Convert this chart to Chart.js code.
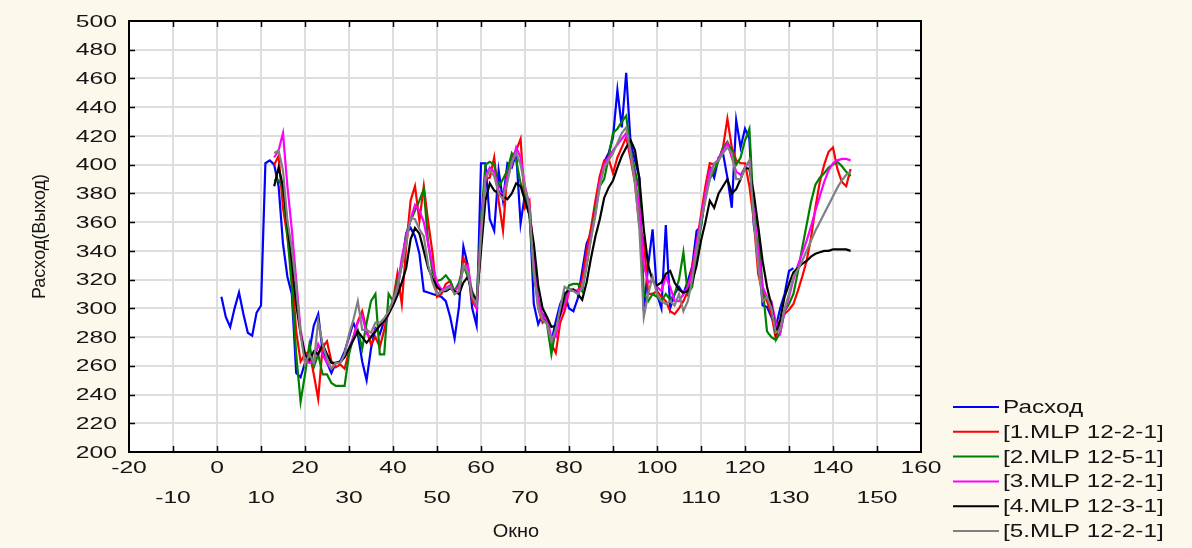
<!DOCTYPE html>
<html>
<head>
<meta charset="utf-8">
<script src="https://cdn.jsdelivr.net/npm/chart.js@4.4.1/dist/chart.umd.min.js"></script>
<style>
    body { margin: 0; background: #fdf8ec; }
    canvas { display: block; }
</style>
</head>
<body>
<canvas id="forecast_chart" width="1192" height="548"></canvas>
<script>
// first window index of the observed series and of the model outputs
const rashodStart = 1;
const modelStart = 13;

const rashod = [
    308, 294, 287, 300, 311, 296, 283, 281, 297, 302,
    401, 403, 400, 385, 345, 322, 310, 255, 252, 262,
    270, 288, 296, 270, 262, 255, 262, 263, 270, 280,
    290, 282, 263, 250, 272, 286, 282, 291, 298, 305,
    314, 331, 352, 356, 350, 338, 312, 311, 310, 309,
    308, 305, 294, 279, 301, 343, 330, 300, 288, 401,
    401, 362, 354, 396, 375, 401, 398, 408, 359, 380,
    371, 303, 289, 296, 292, 277, 291, 303, 310, 300,
    298, 307, 326, 345, 352, 368, 391, 402, 408, 419,
    452, 426, 464, 415, 403, 391, 298, 330, 355, 310,
    300, 358, 300, 310, 315, 310, 319, 329, 354, 357,
    380, 398, 391, 405, 408, 391, 370, 431, 412, 425,
    418, 358, 340, 302, 301, 294, 287, 300, 310, 326, 328
];

const mlp1 = [
    400, 406, 370, 350, 326, 284, 263, 268, 270, 254,
    237, 273, 277, 263, 259, 261, 258, 270, 280, 291,
    298, 285, 275, 280, 273, 285, 298, 305, 324, 303,
    343, 375, 385, 361, 385, 360, 338, 308, 310, 317,
    319, 310, 312, 335, 328, 305, 300, 345, 390, 391,
    405, 375, 354, 395, 405, 410, 418, 370, 375, 330,
    300, 290, 293, 275, 269, 290, 298, 312, 313, 312,
    320, 340, 356, 375, 392, 403, 404, 394, 405, 412,
    419, 404, 387, 357, 347, 310, 310, 312, 308, 305,
    298, 296, 300, 305, 312, 329, 345, 365, 385, 401,
    400, 403, 412, 432, 412, 403, 401, 401, 385, 361,
    324, 311, 305, 296, 279, 291, 296, 299, 303, 312,
    322, 333, 349, 370, 388, 400, 409, 412, 397, 388, 385, 397
];

const mlp2 = [
    389, 389, 385, 351, 315, 268, 235, 254, 275, 259,
    268, 254, 254, 248, 246, 246, 246, 268, 280, 285,
    272, 290, 305, 310, 268, 268, 310, 305, 319, 330,
    352, 361, 368, 375, 383, 345, 325, 319, 320, 323,
    319, 312, 318, 330, 322, 312, 305, 360, 400, 402,
    400, 384, 390, 396, 408, 403, 387, 377, 365, 322,
    307, 294, 289, 268, 286, 296, 305, 316, 317, 317,
    312, 330, 350, 370, 385, 390, 405, 422, 425, 430,
    434, 410, 396, 382, 310, 305, 310, 308, 305, 310,
    306, 310, 320, 339, 310, 315, 338, 357, 378, 390,
    396, 403, 412, 416, 410, 400, 405, 417, 425, 366,
    355, 315, 284, 280, 278, 283, 298, 303, 310, 325,
    342, 358, 374, 386, 391, 394, 398, 400, 402, 399, 395, 392
];

const mlp3 = [
    405, 410, 422, 385, 355, 320, 285, 268, 262, 262,
    275, 268, 262, 258, 262, 262, 266, 272, 280, 290,
    295, 282, 280, 285, 288, 290, 296, 305, 315, 335,
    350, 362, 372, 368, 360, 345, 330, 318, 313, 314,
    316, 312, 315, 328, 330, 310, 300, 355, 392, 398,
    395, 382, 378, 392, 400, 412, 405, 385, 372, 335,
    305, 295, 292, 280, 280, 295, 302, 312, 313, 312,
    315, 332, 350, 366, 388, 400, 405, 410, 414, 418,
    422, 408, 390, 370, 330, 318, 320, 315, 312, 322,
    315, 305, 305, 310, 315, 325, 345, 362, 380, 396,
    400, 404, 410, 415, 405, 395, 393, 398, 402, 368,
    340, 315, 308, 305, 290, 283, 298, 308, 320, 330,
    338, 347, 357, 368, 378, 388, 396, 401, 403, 404, 404, 403
];

const mlp4 = [
    385, 398, 385, 359, 333, 303, 282, 268, 264, 270,
    268, 275, 268, 262, 262, 263, 266, 272, 278, 284,
    280, 276, 280, 284, 288, 291, 296, 302, 309, 318,
    328, 348, 356, 352, 340, 328, 321, 315, 312, 312,
    314, 312, 310, 318, 322, 310, 305, 340, 375, 387,
    382, 380, 378, 376, 380, 387, 385, 375, 365, 345,
    316, 300, 294, 287, 288, 296, 310, 313, 313, 310,
    306, 318, 335, 350, 362, 377, 384, 389, 398, 406,
    412, 417, 410, 390, 355, 330, 319, 316, 318, 324,
    326, 318, 313, 311, 312, 318, 330, 347, 360, 375,
    370, 380, 385, 390, 380, 383, 390, 398, 397, 380,
    357, 333, 315, 302, 283, 292, 308, 317, 325, 328,
    331, 333, 336, 338, 339, 340, 340, 341, 341, 341, 341, 340
];

const mlp5 = [
    408, 410, 396, 361, 342, 315, 282, 261, 268, 262,
    291, 275, 265, 258, 262, 262, 268, 282, 292, 305,
    285, 285, 283, 290, 290, 293, 298, 305, 314, 330,
    345, 363, 362, 355, 350, 330, 318, 310, 312, 313,
    315, 310, 312, 330, 325, 308, 303, 350, 390, 396,
    392, 380, 376, 388, 402, 408, 400, 384, 370, 325,
    300, 292, 289, 277, 285, 300, 315, 313, 312, 310,
    314, 330, 348, 365, 385, 398, 403, 408, 415, 422,
    426, 408, 387, 355, 294, 310, 322, 310, 305, 303,
    305, 302, 310, 298, 305, 320, 340, 360, 375, 390,
    401, 403, 408, 412, 408, 390, 390, 398, 403, 362,
    330, 305, 308, 300, 283, 285, 300, 310, 322, 327,
    333, 340, 347, 354, 360, 366, 372, 378, 384, 389, 393, 395
];

const seriesLabels = ['Расход', '[1.MLP 12-2-1]', '[2.MLP 12-5-1]', '[3.MLP 12-2-1]', '[4.MLP 12-3-1]', '[5.MLP 12-2-1]'];
const seriesColors = ['rgb(0, 0, 255)', 'rgb(255, 0, 0)', 'rgb(0, 128, 0)', 'rgb(255, 0, 255)', 'rgb(0, 0, 0)', 'rgb(128, 128, 128)'];

const xMin = -20, xMax = 160, xStep = 10;
const yMin = 200, yMax = 500, yStep = 20;

const paperColor = '#fdf8ec';
const textColor = '#151515';
const fontFamily = '"Liberation Sans", Arial, sans-serif';
// tick and legend text is drawn horizontally widened
const tickStretch = 1.45;
const legendStretch = 1.35;

function toPoints(values, start) {
    return values.map((v, i) => ({ x: start + i, y: v }));
}

const allSeries = [
    toPoints(rashod, rashodStart),
    toPoints(mlp1, modelStart),
    toPoints(mlp2, modelStart),
    toPoints(mlp3, modelStart),
    toPoints(mlp4, modelStart),
    toPoints(mlp5, modelStart)
];

// lower order is painted later, so the grey model ends up on top
const drawOrder = [5, 4, 3, 2, 1, 0];

function wideText(ctx, text, x, y, stretch) {
    ctx.save();
    ctx.translate(x, y);
    ctx.scale(stretch, 1);
    ctx.fillText(text, 0, 0);
    ctx.restore();
}

// background, frame with inward tick marks, tick labels, axis titles and legend
const decorations = {
    id: 'decorations',
    beforeDraw(chart) {
        const { ctx, chartArea: a } = chart;
        ctx.save();
        ctx.fillStyle = paperColor;
        ctx.fillRect(0, 0, chart.width, chart.height);
        ctx.fillStyle = '#ffffff';
        ctx.fillRect(a.left, a.top, a.right - a.left, a.bottom - a.top);
        ctx.restore();
    },
    afterDraw(chart) {
        const { ctx, chartArea: a, scales } = chart;
        ctx.save();
        ctx.strokeStyle = '#000';
        ctx.lineWidth = 2;
        ctx.strokeRect(a.left, a.top, a.right - a.left, a.bottom - a.top);

        ctx.lineWidth = 1.5;
        ctx.beginPath();
        scales.x.ticks.forEach((t) => {
            if (t.value <= xMin || t.value >= xMax) return;
            const px = Math.round(scales.x.getPixelForValue(t.value)) + 0.5;
            ctx.moveTo(px, a.bottom); ctx.lineTo(px, a.bottom - 6);
            ctx.moveTo(px, a.top); ctx.lineTo(px, a.top + 6);
        });
        scales.y.ticks.forEach((t) => {
            if (t.value <= yMin || t.value >= yMax) return;
            const py = Math.round(scales.y.getPixelForValue(t.value)) + 0.5;
            ctx.moveTo(a.left, py); ctx.lineTo(a.left + 6, py);
            ctx.moveTo(a.right, py); ctx.lineTo(a.right - 6, py);
        });
        ctx.stroke();

        ctx.fillStyle = textColor;
        ctx.font = '17px ' + fontFamily;
        ctx.textBaseline = 'middle';

        // x labels alternate between two rows
        ctx.textAlign = 'center';
        scales.x.ticks.forEach((t) => {
            const row = t.value % 20 === 0 ? 0 : 1;
            wideText(ctx, String(t.value), scales.x.getPixelForValue(t.value), a.bottom + 16 + row * 30, tickStretch);
        });
        ctx.textAlign = 'right';
        scales.y.ticks.forEach((t) => {
            wideText(ctx, String(t.value), a.left - 12, scales.y.getPixelForValue(t.value) + 1, tickStretch);
        });

        ctx.font = '19px ' + fontFamily;
        ctx.textAlign = 'center';
        wideText(ctx, 'Окно', 516, 532, 1.05);

        ctx.font = '18px ' + fontFamily;
        ctx.save();
        ctx.translate(40, (a.top + a.bottom) / 2);
        ctx.rotate(-Math.PI / 2);
        ctx.fillText('Расход(Выход)', 0, 0);
        ctx.restore();

        ctx.font = '18px ' + fontFamily;
        ctx.textAlign = 'left';
        chart.data.datasets.forEach((ds, i) => {
            const y = 407 + i * 24.8;
            ctx.strokeStyle = ds.borderColor;
            ctx.lineWidth = 2;
            ctx.beginPath();
            ctx.moveTo(953, y);
            ctx.lineTo(999, y);
            ctx.stroke();
            wideText(ctx, ds.label, 1003, y + 1, legendStretch);
        });
        ctx.restore();
    }
};

Chart.defaults.font.family = fontFamily;
Chart.defaults.font.size = 17;
Chart.defaults.color = textColor;

const ctx = document.getElementById('forecast_chart').getContext('2d');

const forecastChart = new Chart(ctx, {
    type: 'line',
    data: {
        datasets: allSeries.map((points, i) => ({
            label: seriesLabels[i],
            data: points,
            borderColor: seriesColors[i],
            backgroundColor: seriesColors[i],
            borderWidth: 2.2,
            pointRadius: 0,
            tension: 0,
            order: drawOrder[i]
        }))
    },
    options: {
        responsive: false,
        animation: false,
        events: [],
        layout: { padding: { left: 0, top: 21, right: 271, bottom: 0 } },
        plugins: {
            legend: { display: false },
            tooltip: { enabled: false }
        },
        scales: {
            x: {
                type: 'linear',
                min: xMin,
                max: xMax,
                grid: { color: '#dedede', lineWidth: 2, drawTicks: false },
                border: { color: '#000', width: 2 },
                ticks: { stepSize: xStep, autoSkip: false, display: false },
                afterFit(scale) { scale.height = 96; }
            },
            y: {
                min: yMin,
                max: yMax,
                grid: { color: '#dedede', lineWidth: 2, drawTicks: false },
                border: { color: '#000', width: 2 },
                ticks: { stepSize: yStep, display: false },
                afterFit(scale) { scale.width = 129; }
            }
        }
    },
    plugins: [decorations]
});
</script>
</body>
</html>
